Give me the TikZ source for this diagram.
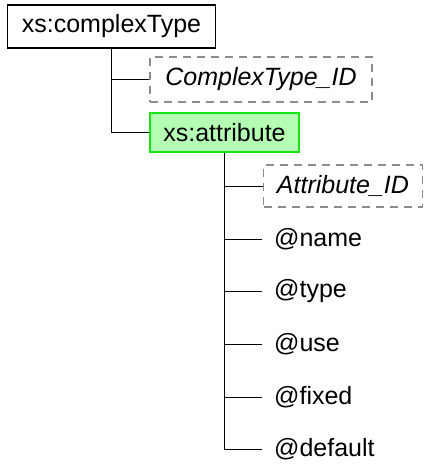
\documentclass[tikz,border=0pt]{standalone}
\usepackage{fontspec}
\setmainfont{Liberation Sans}
\begin{document}
\begin{tikzpicture}[x=1pt,y=-1pt,
  every node/.style={font=\fontsize{25}{30}\selectfont, inner sep=0pt},
  mainbox/.style={draw=black, line width=1.8pt, fill=white, minimum width=208pt, minimum height=43pt},
  idbox/.style={draw=black!45, line width=1.8pt, dash pattern=on 8pt off 6pt, font=\fontsize{25}{30}\selectfont\itshape},
  greenbox/.style={draw={rgb,255:red,20;green,230;blue,20}, line width=1.8pt, fill={rgb,255:red,180;green,255;blue,180}, minimum width=149pt, minimum height=39pt},
  leaf/.style={anchor=west, inner xsep=12pt},
  conn/.style={line width=1pt},
  trunk/.style={line width=1.8pt}]
\useasboundingbox (0,0) rectangle (424,466);
\node[mainbox] (ct) at (111.5,26.5) {xs:complexType};
\node[idbox, minimum width=222pt, minimum height=45pt] (ctid) at (261,79.5) {ComplexType\_ID};
\node[greenbox] (attr) at (224.5,132.5) {xs:attribute};
\node[idbox, minimum width=159pt, minimum height=42pt] (aid) at (343,186) {Attribute\_ID};
\node[leaf] (name) at (262,239) {@name};
\node[leaf] (type) at (262,291) {@type};
\node[leaf] (use) at (262,344) {@use};
\node[leaf] (fixed) at (262,397) {@fixed};
\node[leaf] (def) at (262,449) {@default};
\draw[conn] (ct.south) |- (ctid.west);
\draw[conn] (ct.south) |- (attr.west);
\draw[trunk] (attr.south) -- (attr.south |- def.west);
\foreach \n in {aid,name,type,use,fixed,def}
  \draw[conn] (attr.south) |- (\n.west);
\end{tikzpicture}
\end{document}
